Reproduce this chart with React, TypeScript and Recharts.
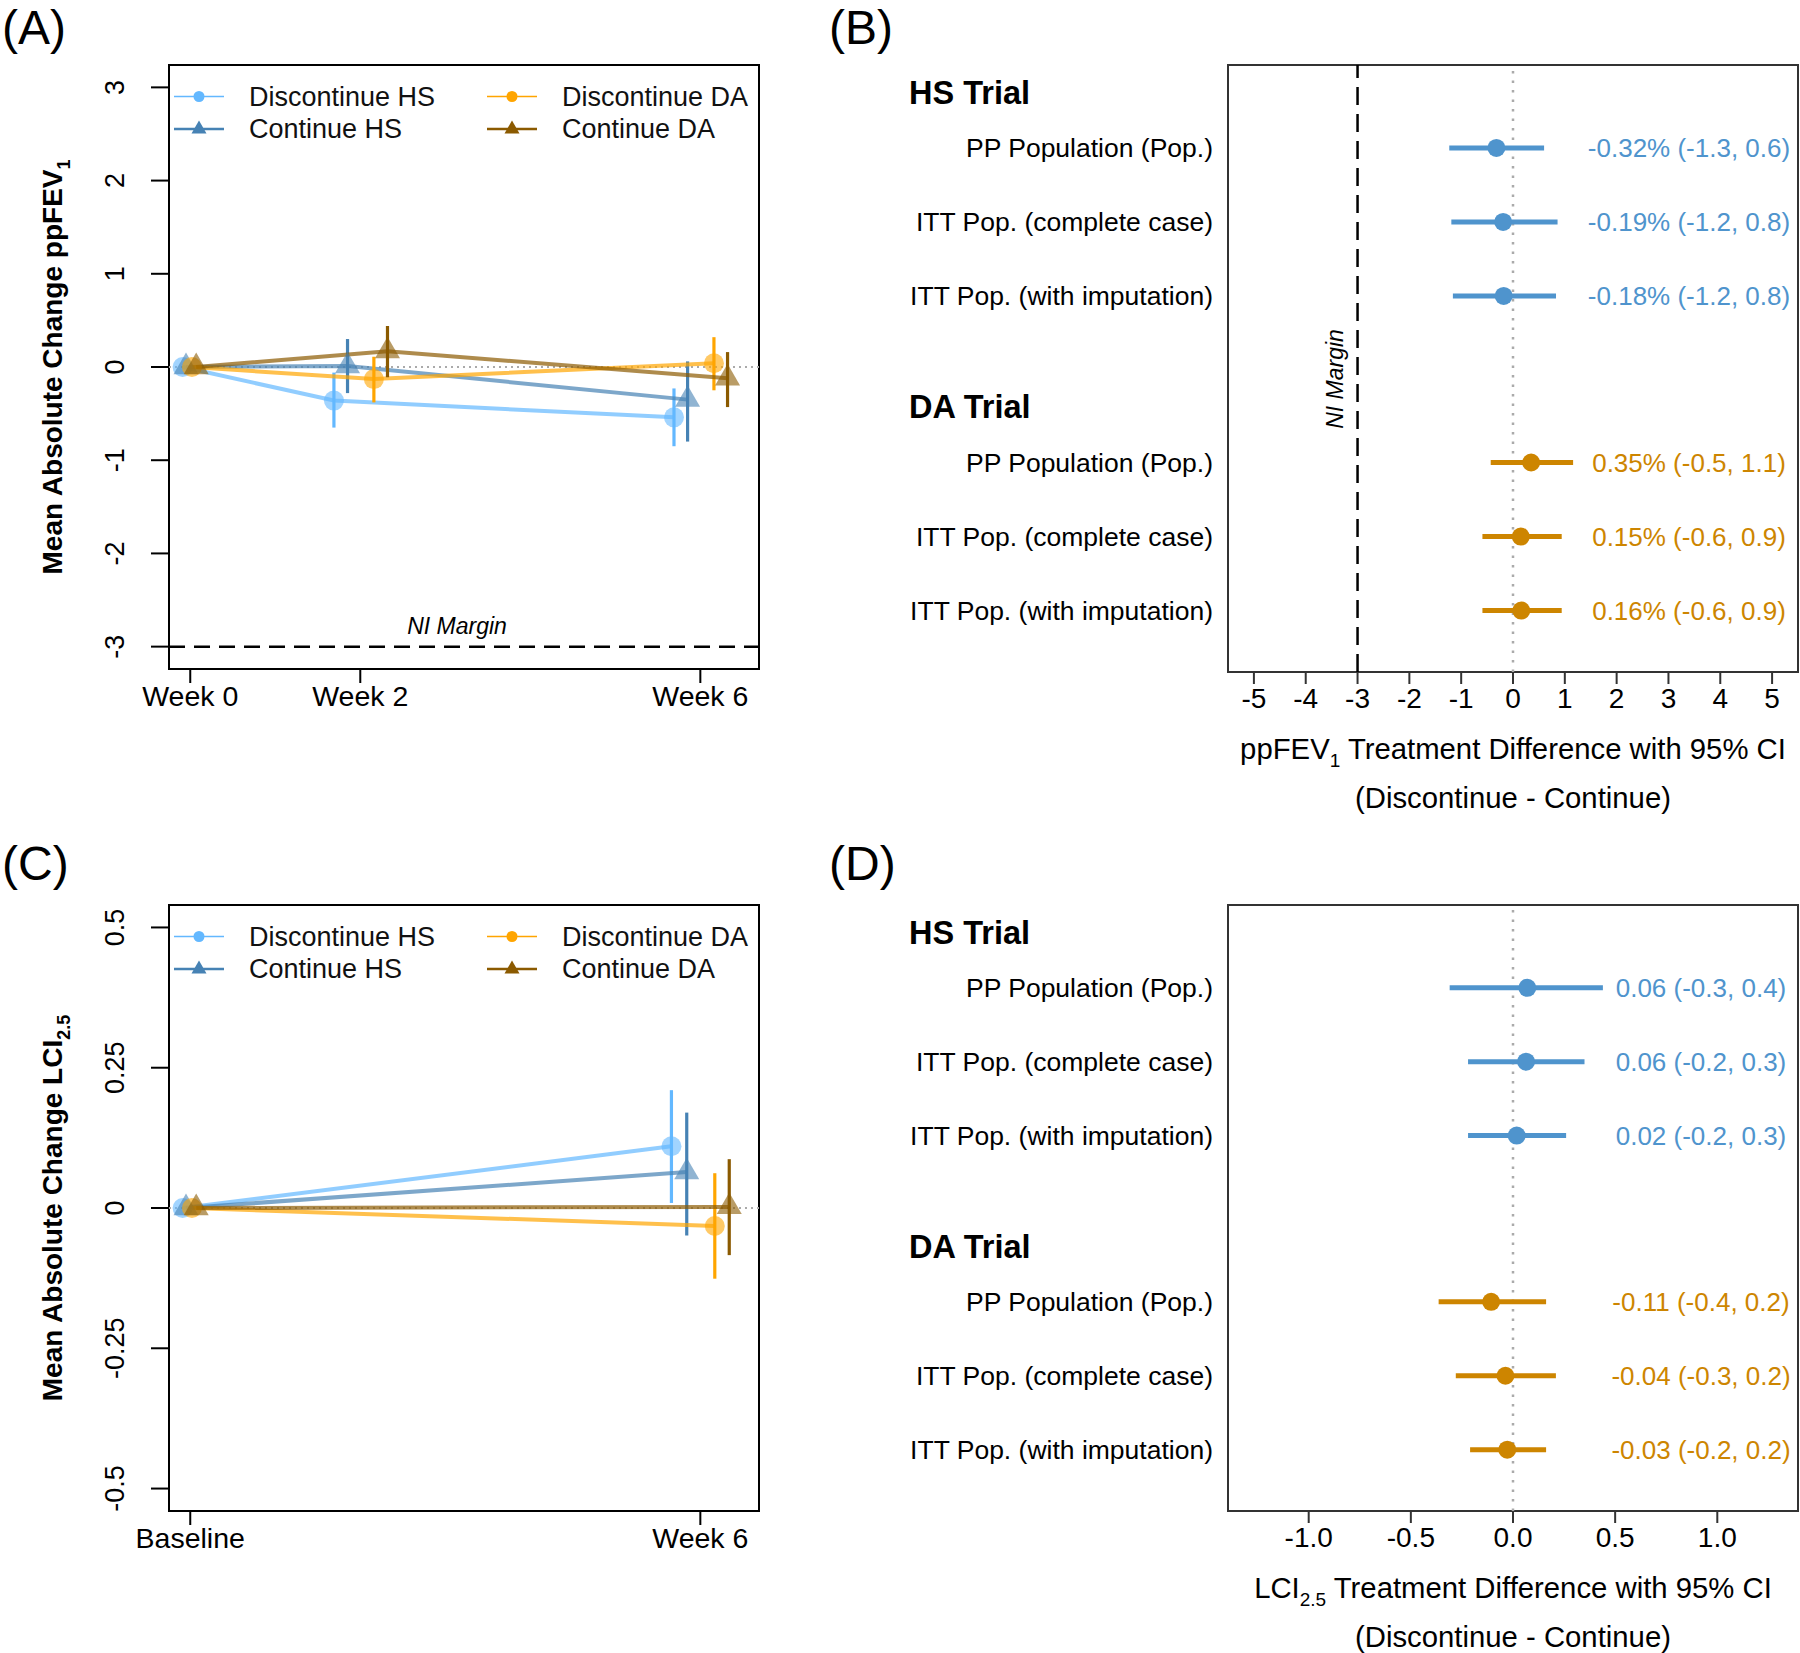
import React from "react";
import {
  ComposedChart,
  Line,
  Scatter,
  XAxis,
  YAxis,
  ReferenceLine,
  ReferenceArea,
  ErrorBar,
  Legend,
} from "recharts";

const FONT = '"Liberation Sans", Arial, Helvetica, sans-serif';

// groups shared by panels A and C
const seriesNames = ["Discontinue HS", "Continue HS", "Discontinue DA", "Continue DA"];
const seriesColors = ["#63B8FF", "#4682B4", "#FFA500", "#8B5A00"];
const seriesShapes = ["circle", "triangle", "circle", "triangle"];

// panel A: mean absolute change in ppFEV1 (x = week, dodged per group)
const fevWeekTicks = [0, 2, 6];
const fevWeekLabels = ["Week 0", "Week 2", "Week 6"];
const fevYTicks = [-3, -2, -1, 0, 1, 2, 3];

const discHsFevX = [-0.09, 1.69, 5.69];
const discHsFev = [0, -0.36, -0.54];
const discHsFevLo = [0, -0.65, -0.85];
const discHsFevHi = [0, -0.06, -0.23];

const contHsFevX = [-0.05, 1.85, 5.85];
const contHsFev = [0, 0.01, -0.35];
const contHsFevLo = [0, -0.28, -0.8];
const contHsFevHi = [0, 0.3, 0.06];

const discDaFevX = [0.02, 2.16, 6.16];
const discDaFev = [0, -0.13, 0.04];
const discDaFevLo = [0, -0.38, -0.25];
const discDaFevHi = [0, 0.11, 0.32];

const contDaFevX = [0.07, 2.32, 6.32];
const contDaFev = [0, 0.17, -0.12];
const contDaFevLo = [0, -0.11, -0.43];
const contDaFevHi = [0, 0.44, 0.16];

// panel C: mean absolute change in LCI2.5
const lciWeekTicks = [0, 6];
const lciWeekLabels = ["Baseline", "Week 6"];
const lciYTicks = [-0.5, -0.25, 0, 0.25, 0.5];

const discHsLciX = [-0.09, 5.66];
const discHsLci = [0, 0.11];
const discHsLciLo = [0, 0.009];
const discHsLciHi = [0, 0.21];

const contHsLciX = [-0.05, 5.84];
const contHsLci = [0, 0.064];
const contHsLciLo = [0, -0.049];
const contHsLciHi = [0, 0.17];

const discDaLciX = [0.02, 6.17];
const discDaLci = [0, -0.032];
const discDaLciLo = [0, -0.126];
const discDaLciHi = [0, 0.062];

const contDaLciX = [0.07, 6.34];
const contDaLci = [0, 0.002];
const contDaLciLo = [0, -0.084];
const contDaLciHi = [0, 0.087];

// forest plots (B, D): rows
const rowLabels = [
  "HS Trial",
  "PP Population (Pop.)",
  "ITT Pop. (complete case)",
  "ITT Pop. (with imputation)",
  "DA Trial",
  "PP Population (Pop.)",
  "ITT Pop. (complete case)",
  "ITT Pop. (with imputation)",
];
const rowIsHeader = [true, false, false, false, true, false, false, false];
const rowY = [0, 0.75, 1.75, 2.75, 4.25, 5, 6, 7];
const hsRowY = [0.75, 1.75, 2.75];
const daRowY = [5, 6, 7];
const rowDomain = [-0.37, 7.83];

// panel B: ppFEV1 treatment difference
const fevDiffTicks = [-5, -4, -3, -2, -1, 0, 1, 2, 3, 4, 5];
const fevHsEst = [-0.32, -0.19, -0.18];
const fevHsLo = [-1.23, -1.19, -1.16];
const fevHsHi = [0.6, 0.86, 0.83];
const fevDaEst = [0.35, 0.15, 0.16];
const fevDaLo = [-0.43, -0.59, -0.59];
const fevDaHi = [1.16, 0.94, 0.94];
const fevAnnot = [
  "-0.32% (-1.3, 0.6)",
  "-0.19% (-1.2, 0.8)",
  "-0.18% (-1.2, 0.8)",
  "0.35% (-0.5, 1.1)",
  "0.15% (-0.6, 0.9)",
  "0.16% (-0.6, 0.9)",
];

// panel D: LCI2.5 treatment difference
const lciDiffTicks = [-1, -0.5, 0, 0.5, 1];
const lciHsEst = [0.07, 0.064, 0.018];
const lciHsLo = [-0.31, -0.22, -0.22];
const lciHsHi = [0.44, 0.35, 0.26];
const lciDaEst = [-0.107, -0.037, -0.028];
const lciDaLo = [-0.364, -0.28, -0.21];
const lciDaHi = [0.162, 0.21, 0.162];
const lciAnnot = [
  "0.06 (-0.3, 0.4)",
  "0.06 (-0.2, 0.3)",
  "0.02 (-0.2, 0.3)",
  "-0.11 (-0.4, 0.2)",
  "-0.04 (-0.3, 0.2)",
  "-0.03 (-0.2, 0.2)",
];

const HS_COLOR = "#4F94CD";
const DA_COLOR = "#CD8500";

function makePoints(x: number[], y: number[], lo: number[], hi: number[]) {
  return x.map((xv, i) => ({ x: xv, y: y[i], err: [y[i] - lo[i], hi[i] - y[i]] }));
}

function Marker({ cx, cy, color, shape }: any) {
  if (cx == null || cy == null) return null;
  if (shape === "circle") {
    return <circle cx={cx} cy={cy} r={10} fill={color} fillOpacity={0.6} />;
  }
  return (
    <polygon
      points={`${cx},${cy - 14.4} ${cx + 12.5},${cy + 7.2} ${cx - 12.5},${cy + 7.2}`}
      fill={color}
      fillOpacity={0.6}
    />
  );
}

function LegendBox() {
  const colX = [4, 317];
  const rowYs = [16.5, 49];
  return (
    <svg width={620} height={66} style={{ display: "block", fontFamily: FONT }}>
      {seriesNames.map((name, i) => {
        const x0 = colX[Math.floor(i / 2)];
        const y = rowYs[i % 2];
        const c = seriesColors[i];
        const mx = x0 + 25;
        return (
          <g key={name}>
            <line x1={x0} x2={x0 + 50} y1={y} y2={y} stroke={c} strokeWidth={i % 2 ? 2.5 : 1.5} />
            {seriesShapes[i] === "circle" ? (
              <circle cx={mx} cy={y} r={5.5} fill={c} />
            ) : (
              <polygon points={`${mx},${y - 8.5} ${mx + 7.5},${y + 4.5} ${mx - 7.5},${y + 4.5}`} fill={c} />
            )}
            <text x={x0 + 75} y={y} dy="0.35em" fontSize={27} fill="#111">
              {name}
            </text>
          </g>
        );
      })}
    </svg>
  );
}

function rotTick(fmt: (v: number) => string) {
  return (p: any) => (
    <text
      x={p.x}
      y={p.y}
      transform={`rotate(-90 ${p.x} ${p.y})`}
      textAnchor="middle"
      fontSize={27}
      fill="#000"
    >
      {fmt(p.payload.value)}
    </text>
  );
}

function ChangePanel({
  height,
  top,
  axisH,
  xTicks,
  xLabels,
  yTicks,
  yDomain,
  groups,
  yTitle,
  niMargin,
  legendTop,
}: any) {
  const xDomain = [-0.25, 6.69];
  return (
    <ComposedChart width={800} height={height} margin={{ top, right: 41, bottom: 0, left: 0 }}>
      <XAxis
        type="number"
        dataKey="x"
        domain={xDomain}
        allowDataOverflow
        ticks={xTicks}
        interval={0}
        tickFormatter={(v: number) => xLabels[xTicks.indexOf(v)]}
        height={axisH}
        tickSize={14}
        tickMargin={3}
        axisLine={false}
        tickLine={{ stroke: "#000", strokeWidth: 2 }}
        tick={{ fill: "#000", fontSize: 28.5 }}
      />
      <YAxis
        type="number"
        domain={yDomain}
        allowDataOverflow
        ticks={yTicks}
        interval={0}
        width={169}
        tickSize={18}
        tickMargin={27}
        axisLine={false}
        tickLine={{ stroke: "#000", strokeWidth: 2 }}
        tick={rotTick((v) => String(v))}
        label={{
          content: (p: any) => {
            const vb = p.viewBox;
            const cx = vb.x + 52;
            const cy = vb.y + vb.height / 2;
            return (
              <text
                x={cx}
                y={cy}
                dy="0.35em"
                transform={`rotate(-90 ${cx} ${cy})`}
                textAnchor="middle"
                fontSize={28}
                fontWeight="bold"
                fill="#000"
              >
                {yTitle}
              </text>
            );
          },
        }}
      />
      <ReferenceArea
        x1={xDomain[0]}
        x2={xDomain[1]}
        y1={yDomain[0]}
        y2={yDomain[1]}
        fill="none"
        stroke="#000"
        strokeWidth={2}
      />
      <ReferenceLine y={0} stroke="#aaa" strokeWidth={2} strokeDasharray="2 4" />
      {niMargin != null && (
        <ReferenceLine
          y={niMargin}
          stroke="#000"
          strokeWidth={2.5}
          strokeDasharray="16 9"
          label={{
            content: (p: any) => {
              const vb = p.viewBox;
              return (
                <text
                  x={vb.x + vb.width / 2 - 7}
                  y={vb.y - 13}
                  textAnchor="middle"
                  fontSize={23}
                  fontStyle="italic"
                  fill="#000"
                >
                  NI Margin
                </text>
              );
            },
          }}
        />
      )}
      {groups.map((g: any, i: number) => (
        <Line
          key={seriesNames[i]}
          data={g}
          dataKey="y"
          type="linear"
          stroke={seriesColors[i]}
          strokeOpacity={0.7}
          strokeWidth={4}
          isAnimationActive={false}
          dot={(p: any) => (
            <Marker key={`m-${i}-${p.index}`} cx={p.cx} cy={p.cy} color={seriesColors[i]} shape={seriesShapes[i]} />
          )}
          activeDot={false}
        >
          <ErrorBar dataKey="err" direction="y" width={0} stroke={seriesColors[i]} strokeWidth={3.2} />
        </Line>
      ))}
      <Legend
        layout="horizontal"
        verticalAlign="middle"
        align="center"
        wrapperStyle={{ top: legendTop, left: 170, width: 620 }}
        content={() => <LegendBox />}
      />
    </ComposedChart>
  );
}

function ForestPanel({
  height,
  top,
  axisH,
  xDomain,
  xTicks,
  xFmt,
  hsEst,
  hsLo,
  hsHi,
  daEst,
  daLo,
  daHi,
  annot,
  annMargin,
  title,
  niMargin,
}: any) {
  const hsPts = hsEst.map((v: number, i: number) => ({ x: v, y: hsRowY[i], ci: [v - hsLo[i], hsHi[i] - v] }));
  const daPts = daEst.map((v: number, i: number) => ({ x: v, y: daRowY[i], ci: [v - daLo[i], daHi[i] - v] }));
  const itemY = [...hsRowY, ...daRowY];
  return (
    <ComposedChart width={1000} height={height} margin={{ top, right: 2, bottom: 0, left: 0 }}>
      <XAxis
        type="number"
        dataKey="x"
        domain={xDomain}
        allowDataOverflow
        ticks={xTicks}
        interval={0}
        tickFormatter={xFmt}
        height={axisH}
        tickSize={12}
        tickMargin={4}
        axisLine={false}
        tickLine={{ stroke: "#333", strokeWidth: 2 }}
        tick={{ fill: "#000", fontSize: 28 }}
        label={{
          content: (p: any) => {
            const vb = p.viewBox;
            const cx = vb.x + vb.width / 2;
            return (
              <g>
                <text x={cx} y={vb.y + 87} textAnchor="middle" fontSize={29.3} fill="#000">
                  {title}
                </text>
                <text x={cx} y={vb.y + 136} textAnchor="middle" fontSize={29.3} fill="#000">
                  (Discontinue - Continue)
                </text>
              </g>
            );
          },
        }}
      />
      <YAxis
        yAxisId="rows"
        type="number"
        dataKey="y"
        domain={rowDomain}
        reversed
        allowDataOverflow
        ticks={rowY}
        interval={0}
        width={428}
        tickSize={0}
        tickMargin={15}
        axisLine={false}
        tickLine={false}
        tick={(p: any) => {
          const i = rowY.indexOf(p.payload.value);
          const head = rowIsHeader[i];
          return (
            <text
              x={head ? p.x - 304 : p.x}
              y={p.y}
              dy="0.35em"
              textAnchor={head ? "start" : "end"}
              fontSize={head ? 32.5 : 26.5}
              fontWeight={head ? "bold" : "normal"}
              fill="#000"
            >
              {rowLabels[i]}
            </text>
          );
        }}
      />
      <YAxis
        yAxisId="ann"
        orientation="right"
        mirror
        type="number"
        domain={rowDomain}
        reversed
        allowDataOverflow
        ticks={itemY}
        interval={0}
        tickSize={0}
        tickMargin={annMargin}
        axisLine={false}
        tickLine={false}
        tick={(p: any) => {
          const i = itemY.indexOf(p.payload.value);
          return (
            <text x={p.x} y={p.y} dy="0.35em" textAnchor="middle" fontSize={26} fill={i < 3 ? HS_COLOR : DA_COLOR}>
              {annot[i]}
            </text>
          );
        }}
      />
      <ReferenceArea
        yAxisId="rows"
        x1={xDomain[0]}
        x2={xDomain[1]}
        y1={rowDomain[0]}
        y2={rowDomain[1]}
        fill="none"
        stroke="#333"
        strokeWidth={2}
      />
      <ReferenceLine yAxisId="rows" x={0} stroke="#aaa" strokeWidth={2.5} strokeDasharray="2.5 7" />
      {niMargin != null && (
        <ReferenceLine
          yAxisId="rows"
          x={niMargin}
          stroke="#000"
          strokeWidth={2.5}
          strokeDasharray="18 9"
          label={{
            content: (p: any) => {
              const vb = p.viewBox;
              const lx = vb.x - 15;
              const ly = vb.y + 314;
              return (
                <text
                  x={lx}
                  y={ly}
                  transform={`rotate(-90 ${lx} ${ly})`}
                  textAnchor="middle"
                  fontSize={23}
                  fontStyle="italic"
                  fill="#000"
                >
                  NI Margin
                </text>
              );
            },
          }}
        />
      )}
      <Scatter
        yAxisId="rows"
        data={hsPts}
        isAnimationActive={false}
        shape={(p: any) => <circle cx={p.cx} cy={p.cy} r={9} fill={HS_COLOR} />}
      >
        <ErrorBar dataKey="ci" direction="x" width={0} stroke={HS_COLOR} strokeWidth={5} />
      </Scatter>
      <Scatter
        yAxisId="rows"
        data={daPts}
        isAnimationActive={false}
        shape={(p: any) => <circle cx={p.cx} cy={p.cy} r={9} fill={DA_COLOR} />}
      >
        <ErrorBar dataKey="ci" direction="x" width={0} stroke={DA_COLOR} strokeWidth={5} />
      </Scatter>
    </ComposedChart>
  );
}

export default function App() {
  const fevGroups = [
    makePoints(discHsFevX, discHsFev, discHsFevLo, discHsFevHi),
    makePoints(contHsFevX, contHsFev, contHsFevLo, contHsFevHi),
    makePoints(discDaFevX, discDaFev, discDaFevLo, discDaFevHi),
    makePoints(contDaFevX, contDaFev, contDaFevLo, contDaFevHi),
  ];
  const lciGroups = [
    makePoints(discHsLciX, discHsLci, discHsLciLo, discHsLciHi),
    makePoints(contHsLciX, contHsLci, contHsLciLo, contHsLciHi),
    makePoints(discDaLciX, discDaLci, discDaLciLo, discDaLciHi),
    makePoints(contDaLciX, contDaLci, contDaLciLo, contDaLciHi),
  ];

  return (
    <div style={{ position: "relative", width: 1800, height: 1653, background: "#fff", fontFamily: FONT }}>
      <style>{"body{margin:0}"}</style>
      <div style={{ position: "absolute", left: 0, top: 0 }}>
        <ChangePanel
          height={830}
          top={65}
          axisH={161}
          xTicks={fevWeekTicks}
          xLabels={fevWeekLabels}
          yTicks={fevYTicks}
          yDomain={[-3.24, 3.24]}
          groups={fevGroups}
          yTitle={
            <>
              Mean Absolute Change ppFEV
              <tspan dy={8} fontSize={18}>
                1
              </tspan>
            </>
          }
          niMargin={-3}
          legendTop={80}
        />
      </div>
      <div style={{ position: "absolute", left: 800, top: 0 }}>
        <ForestPanel
          height={830}
          top={65}
          axisH={158}
          xDomain={[-5.5, 5.5]}
          xTicks={fevDiffTicks}
          xFmt={(v: number) => String(v)}
          hsEst={fevHsEst}
          hsLo={fevHsLo}
          hsHi={fevHsHi}
          daEst={fevDaEst}
          daLo={fevDaLo}
          daHi={fevDaHi}
          annot={fevAnnot}
          annMargin={109}
          niMargin={-3}
          title={
            <>
              ppFEV
              <tspan dy={8} fontSize={19}>
                1
              </tspan>
              <tspan dy={-8}> Treatment Difference with 95% CI</tspan>
            </>
          }
        />
      </div>
      <div style={{ position: "absolute", left: 0, top: 830 }}>
        <ChangePanel
          height={823}
          top={75}
          axisH={142}
          xTicks={lciWeekTicks}
          xLabels={lciWeekLabels}
          yTicks={lciYTicks}
          yDomain={[-0.54, 0.54]}
          groups={lciGroups}
          yTitle={
            <>
              Mean Absolute Change LCI
              <tspan dy={8} fontSize={18}>
                2.5
              </tspan>
            </>
          }
          legendTop={90}
        />
      </div>
      <div style={{ position: "absolute", left: 800, top: 830 }}>
        <ForestPanel
          height={823}
          top={75}
          axisH={142}
          xDomain={[-1.395, 1.395]}
          xTicks={lciDiffTicks}
          xFmt={(v: number) => v.toFixed(1)}
          hsEst={lciHsEst}
          hsLo={lciHsLo}
          hsHi={lciHsHi}
          daEst={lciDaEst}
          daLo={lciDaLo}
          daHi={lciDaHi}
          annot={lciAnnot}
          annMargin={97}
          title={
            <>
              LCI
              <tspan dy={8} fontSize={19}>
                2.5
              </tspan>
              <tspan dy={-8}> Treatment Difference with 95% CI</tspan>
            </>
          }
        />
      </div>
      <svg
        width={1800}
        height={1653}
        style={{ position: "absolute", left: 0, top: 0, pointerEvents: "none", fontFamily: FONT }}
      >
        <text x={2} y={44} fontSize={48} fill="#000">(A)</text>
        <text x={829} y={44} fontSize={48} fill="#000">(B)</text>
        <text x={2} y={880} fontSize={48} fill="#000">(C)</text>
        <text x={829} y={880} fontSize={48} fill="#000">(D)</text>
      </svg>
    </div>
  );
}
